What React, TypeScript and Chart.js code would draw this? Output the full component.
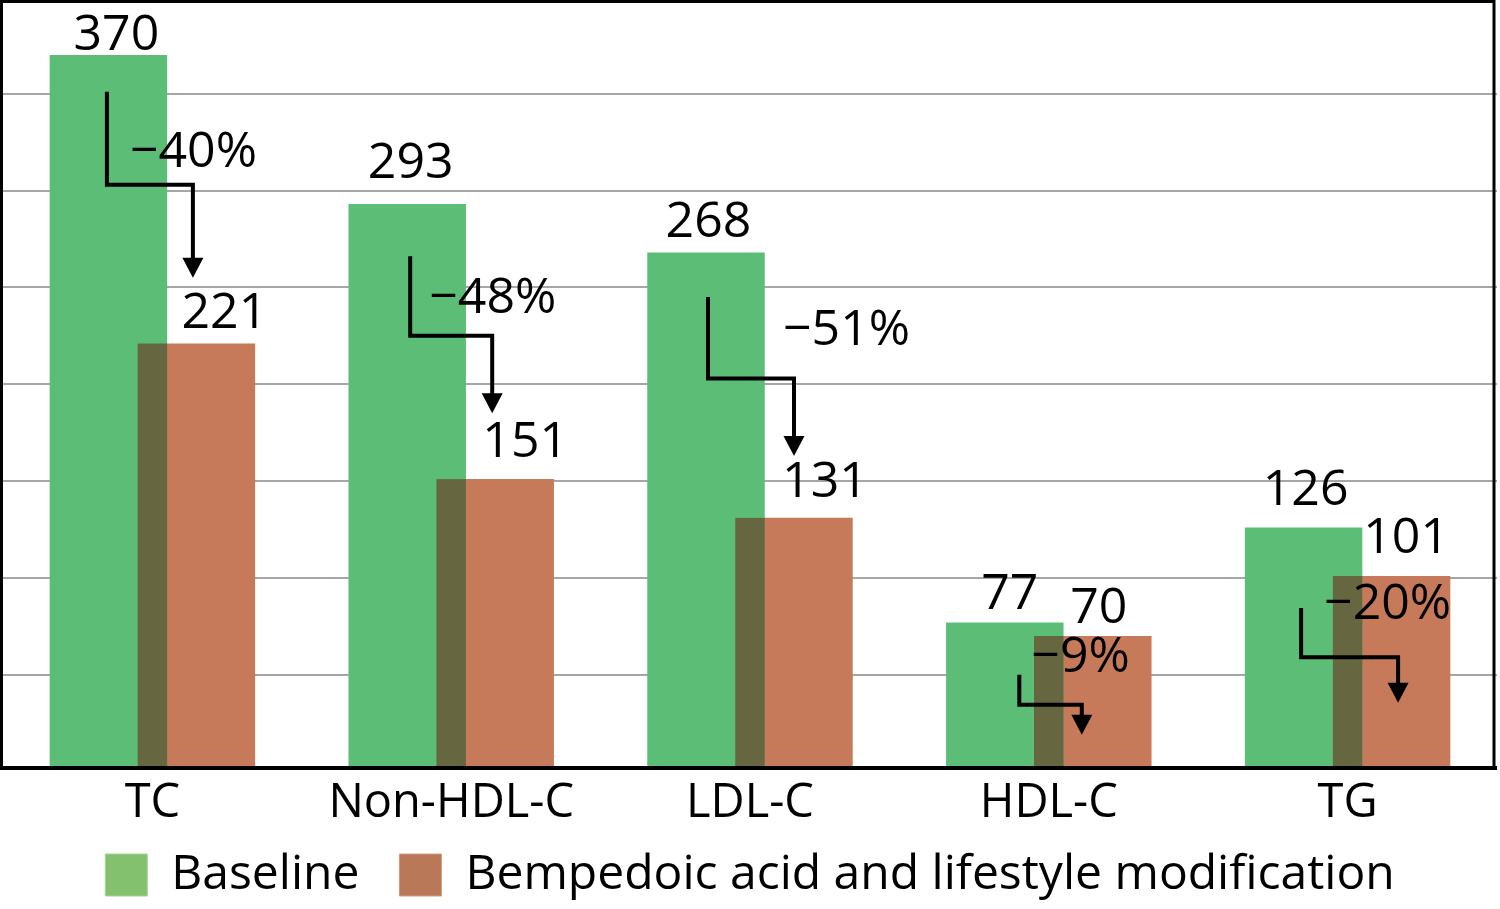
import React, { useEffect, useRef } from 'react';
import { Chart, registerables, Plugin } from 'chart.js';

Chart.register(...registerables);

// Lipid values (mg/dL) before and after treatment
const categories = ['TC', 'Non-HDL-C', 'LDL-C', 'HDL-C', 'TG'];
const baselineValues = [370, 293, 268, 77, 126];
const treatedValues = [221, 151, 131, 70, 101];
const changeLabels = ['\u221240%', '\u221248%', '\u221251%', '\u22129%', '\u221220%'];
const gridValues = [50, 100, 150, 200, 250, 300, 350];

// arrow levels on the y scale (mg/dL)
const arrowStart = [351, 266, 245, 50, 84.5];
const arrowElbow = [303, 225, 203, 34.5, 59];
const arrowTip = [255, 185, 163, 19, 35.5];
const changeLabelLevel = [312, 237, 220, 51.5, 79];

// small pixel nudges for the annotations
const arrowStemShift = [-1.5, 3, 2, 14.5, -2.5];
const arrowDropShift = [-3.5, -3, 0, -11, 6.5];
const changeLabelShift = [23, 19, 75, 12, 23];
const baselineLabelShift = [8, 3.5, 2.5, 5, 2];
const baselineLabelGap = [5, 26, 15, 13, 23];
const treatedLabelShift = [28, 30, 31, 6, 14.5];
const treatedLabelGap = [16, 22, 21, 13, 23];

const GREEN = '#5cbe76';
const ORANGE = '#c77a59';
const OVERLAP = '#666640';
const FONT = "'Open Sans', sans-serif";

const annotations: Plugin<'bar'> = {
  id: 'annotations',
  afterDatasetsDraw(chart) {
    const { ctx, chartArea } = chart;
    const green = chart.getDatasetMeta(0).data as any[];
    const orange = chart.getDatasetMeta(1).data as any[];
    ctx.save();
    ctx.fillStyle = OVERLAP;
    categories.forEach((_, i) => {
      const g = green[i];
      const o = orange[i];
      const left = o.x - o.width / 2;
      const right = g.x + g.width / 2;
      const top = Math.max(g.y, o.y);
      const bottom = Math.min(o.base, chartArea.bottom);
      ctx.fillRect(left, top, right - left, bottom - top);
    });
    ctx.restore();
  },
  afterDraw(chart) {
    const { ctx, chartArea, scales } = chart;
    const y = scales.y;
    const green = chart.getDatasetMeta(0).data as any[];
    const orange = chart.getDatasetMeta(1).data as any[];
    const head = 20;

    ctx.save();
    ctx.fillStyle = '#000';
    ctx.strokeStyle = '#000';
    ctx.font = `50px ${FONT}`;
    ctx.textBaseline = 'alphabetic';

    categories.forEach((_, i) => {
      const g = green[i];
      const o = orange[i];

      // elbow arrow from baseline bar to treated bar
      const sx = g.x + arrowStemShift[i];
      const dx = o.x + arrowDropShift[i];
      const y0 = y.getPixelForValue(arrowStart[i]);
      const y1 = y.getPixelForValue(arrowElbow[i]);
      const y2 = y.getPixelForValue(arrowTip[i]);
      ctx.lineWidth = 4;
      ctx.lineJoin = 'miter';
      ctx.beginPath();
      ctx.moveTo(sx, y0);
      ctx.lineTo(sx, y1);
      ctx.lineTo(dx, y1);
      ctx.lineTo(dx, y2 - head + 1);
      ctx.stroke();
      ctx.beginPath();
      ctx.moveTo(dx - 10.5, y2 - head);
      ctx.lineTo(dx + 10.5, y2 - head);
      ctx.lineTo(dx, y2);
      ctx.closePath();
      ctx.fill();

      // percent change
      ctx.textAlign = 'left';
      ctx.fillText(changeLabels[i], sx + changeLabelShift[i], y.getPixelForValue(changeLabelLevel[i]));

      // bar values
      ctx.textAlign = 'center';
      ctx.fillText(String(baselineValues[i]), g.x + baselineLabelShift[i], g.y - baselineLabelGap[i]);
      ctx.fillText(String(treatedValues[i]), o.x + treatedLabelShift[i], o.y - treatedLabelGap[i]);
    });

    // plot frame
    ctx.lineWidth = 3;
    ctx.strokeRect(chartArea.left - 1.5, chartArea.top + 1.5, chartArea.width - 1.5, chartArea.height - 3);
    ctx.lineWidth = 4;
    ctx.beginPath();
    ctx.moveTo(chartArea.left - 3, chartArea.bottom - 2);
    ctx.lineTo(chartArea.right, chartArea.bottom - 2);
    ctx.stroke();
    ctx.restore();
  },
};

const App: React.FC = () => {
  const canvasRef = useRef<HTMLCanvasElement | null>(null);

  useEffect(() => {
    if (!canvasRef.current) return;
    Chart.defaults.font.family = FONT;

    const chart = new Chart(canvasRef.current, {
      type: 'bar',
      data: {
        labels: categories,
        datasets: [
          {
            label: 'Baseline',
            data: baselineValues,
            backgroundColor: GREEN,
            categoryPercentage: 0.589,
            barPercentage: 1.335,
          },
          {
            label: 'Bempedoic acid and lifestyle modification',
            data: treatedValues,
            backgroundColor: ORANGE,
            categoryPercentage: 0.589,
            barPercentage: 1.335,
          },
        ],
      },
      options: {
        responsive: true,
        maintainAspectRatio: false,
        animation: false,
        layout: { padding: { left: 3, right: 3, top: 0, bottom: 0 } },
        scales: {
          x: {
            grid: { display: false, drawTicks: false },
            border: { display: false },
            // mirrored labels are not clipped to the (short) axis box;
            // the negative padding pushes them back below the plot
            ticks: { color: '#000', font: { size: 47 }, mirror: true, padding: -61.4, autoSkip: false },
            afterFit: (scale) => {
              scale.height = 41;
            },
          },
          y: {
            min: 0.83,
            max: 398.35,
            grid: { color: '#a6a6a6', lineWidth: 2, drawTicks: false },
            border: { display: false },
            ticks: { display: false },
            afterBuildTicks: (scale) => {
              scale.ticks = gridValues.map((value) => ({ value }));
            },
          },
        },
        plugins: {
          tooltip: { enabled: false },
          legend: {
            position: 'bottom',
            labels: {
              boxWidth: 42,
              boxHeight: 42,
              padding: 40,
              color: '#000',
              font: { size: 48 },
              generateLabels: () => [
                { text: 'Baseline', fillStyle: '#84c16f', strokeStyle: '#a3d294', lineWidth: 1, hidden: false, datasetIndex: 0 },
                {
                  text: 'Bempedoic acid and lifestyle modification',
                  fillStyle: '#b97858',
                  strokeStyle: '#d29a80',
                  lineWidth: 1,
                  hidden: false,
                  datasetIndex: 1,
                },
              ],
            },
          },
        },
      },
      plugins: [annotations],
    });

    return () => {
      chart.destroy();
    };
  }, []);

  return (
    <div style={{ position: 'fixed', left: 0, top: 0, width: 1500, height: 909, background: '#fff' }}>
      <canvas ref={canvasRef} />
    </div>
  );
};

export default App;
